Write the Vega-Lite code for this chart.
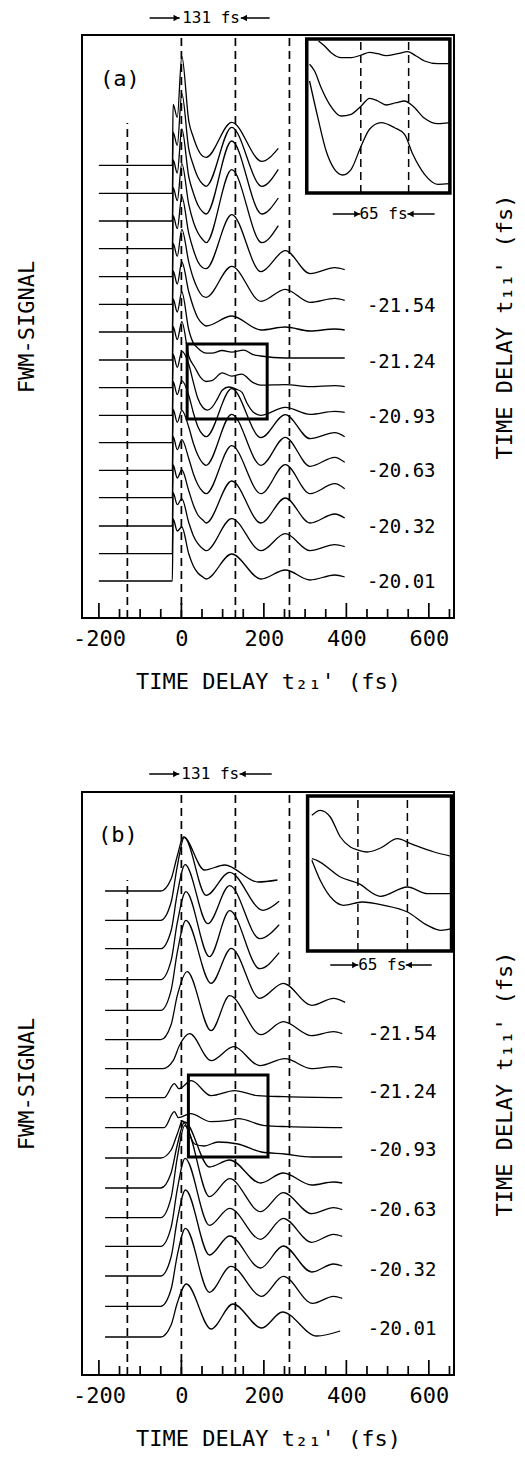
{
"$schema":"https://vega.github.io/schema/vega-lite/v6.json",
"background":"white",
"padding":{"left":14,"top":9,"right":0,"bottom":0},
"bounds":"flush",
"spacing":174,
"config":{"view":{"stroke":"black","strokeWidth":2},"font":"DejaVu Sans Mono","axis":{"grid":false},"text":{"font":"DejaVu Sans Mono","color":"black"}},
"datasets":{
"vlines":[{"kind":"dash","x":-131,"y":0,"y2":495},{"kind":"dash","x":0,"y":0,"y2":583},{"kind":"dash","x":131,"y":0,"y2":583},{"kind":"dash","x":262,"y":0,"y2":583},
{"kind":"tick","x":-200,"y":0,"y2":15},{"kind":"tick","x":0,"y":0,"y2":15},{"kind":"tick","x":200,"y":0,"y2":15},{"kind":"tick","x":400,"y":0,"y2":15},{"kind":"tick","x":600,"y":0,"y2":15},{"kind":"tick","x":-150,"y":0,"y2":9},{"kind":"tick","x":-100,"y":0,"y2":9},{"kind":"tick","x":-50,"y":0,"y2":9},{"kind":"tick","x":50,"y":0,"y2":9},{"kind":"tick","x":100,"y":0,"y2":9},{"kind":"tick","x":150,"y":0,"y2":9},{"kind":"tick","x":250,"y":0,"y2":9},{"kind":"tick","x":300,"y":0,"y2":9},{"kind":"tick","x":350,"y":0,"y2":9},{"kind":"tick","x":450,"y":0,"y2":9},{"kind":"tick","x":500,"y":0,"y2":9},{"kind":"tick","x":550,"y":0,"y2":9},{"kind":"tick","x":650,"y":0,"y2":9}],
"boxA":[{"kind":"inset","x":304,"x2":651,"y":425,"y2":579},{"kind":"zoom","x":14,"x2":208,"y":199,"y2":274}],
"boxB":[{"kind":"inset","x":306,"x2":655,"y":424,"y2":579},{"kind":"zoom","x":17,"x2":210,"y":218,"y2":300}],
"idA":[{"x":435,"y":425,"y2":579},{"x":551,"y":425,"y2":579}],
"idB":[{"x":428,"y":424,"y2":579},{"x":548,"y":424,"y2":579}],
"labA":[{"kind":"val","x":533,"y":312,"t":"-21.54"},{"kind":"val","x":533,"y":256,"t":"-21.24"},{"kind":"val","x":533,"y":201,"t":"-20.93"},{"kind":"val","x":533,"y":147,"t":"-20.63"},{"kind":"val","x":533,"y":91,"t":"-20.32"},{"kind":"val","x":533,"y":36,"t":"-20.01"},{"kind":"tag","x":-149,"y":539,"t":"(a)"},{"kind":"ann","x":72,"y":600,"t":"131 fs"},{"kind":"ann","x":490,"y":404,"t":"65 fs"}],
"labB":[{"kind":"val","x":535,"y":341,"t":"-21.54"},{"kind":"val","x":535,"y":283,"t":"-21.24"},{"kind":"val","x":535,"y":225,"t":"-20.93"},{"kind":"val","x":535,"y":165,"t":"-20.63"},{"kind":"val","x":535,"y":105,"t":"-20.32"},{"kind":"val","x":535,"y":46,"t":"-20.01"},{"kind":"tag","x":-154,"y":540,"t":"(b)"},{"kind":"ann","x":70,"y":601,"t":"131 fs"},{"kind":"ann","x":487,"y":410,"t":"65 fs"}],
"arA":[{"x":-77,"x2":-4,"hx":-12,"y":600,"dir":"r"},{"x":214,"x2":144,"hx":152,"y":600,"dir":"l"},{"x":367,"x2":434,"hx":426,"y":404,"dir":"r"},{"x":614,"x2":548,"hx":556,"y":404,"dir":"l"}],
"arB":[{"x":-78,"x2":-5,"hx":-13,"y":601,"dir":"r"},{"x":219,"x2":141,"hx":149,"y":601,"dir":"l"},{"x":361,"x2":429,"hx":421,"y":410,"dir":"r"},{"x":607,"x2":544,"hx":552,"y":410,"dir":"l"}],
"insA":[
{"k":0,"x":332.6,"y":577},{"k":0,"x":347.2,"y":572},{"k":0,"x":363.2,"y":565.3},{"k":0,"x":387.4,"y":560.3},{"k":0,"x":411.6,"y":560.3},{"k":0,"x":435.9,"y":563},{"k":0,"x":456.2,"y":565.7},{"k":0,"x":476.4,"y":564.3},{"k":0,"x":496.5,"y":562.3},{"k":0,"x":524.8,"y":564.3},{"k":0,"x":549.1,"y":566.3},{"k":0,"x":569.2,"y":562},{"k":0,"x":589.6,"y":557},{"k":0,"x":621.8,"y":554.3},{"k":0,"x":650.2,"y":554.3},
{"k":1,"x":310.8,"y":553.7},{"k":1,"x":322.9,"y":547},{"k":1,"x":338.9,"y":530.3},{"k":1,"x":359.3,"y":513.7},{"k":1,"x":387.4,"y":502},{"k":1,"x":411.6,"y":503.7},{"k":1,"x":435.9,"y":512},{"k":1,"x":456.2,"y":519.7},{"k":1,"x":476.4,"y":517},{"k":1,"x":496.5,"y":513},{"k":1,"x":520.7,"y":515.3},{"k":1,"x":541.1,"y":517},{"k":1,"x":561.2,"y":512},{"k":1,"x":589.6,"y":499.7},{"k":1,"x":621.8,"y":494.3},{"k":1,"x":650.2,"y":495.3},
{"k":2,"x":310.8,"y":537},{"k":2,"x":330.9,"y":500.3},{"k":2,"x":351,"y":467},{"k":2,"x":371.4,"y":448.7},{"k":2,"x":391.5,"y":443},{"k":2,"x":411.6,"y":448.7},{"k":2,"x":435.9,"y":472},{"k":2,"x":456.2,"y":488.7},{"k":2,"x":484.4,"y":495.3},{"k":2,"x":516.8,"y":490.3},{"k":2,"x":541.1,"y":483.7},{"k":2,"x":561.2,"y":463.7},{"k":2,"x":589.6,"y":443.7},{"k":2,"x":621.8,"y":433.7},{"k":2,"x":650.2,"y":434.3}],
"insB":[
{"k":0,"x":316.3,"y":559.7},{"k":0,"x":336.6,"y":564.7},{"k":0,"x":361,"y":558},{"k":0,"x":385.4,"y":538},{"k":0,"x":409.8,"y":528},{"k":0,"x":430,"y":524.7},{"k":0,"x":450.5,"y":523},{"k":0,"x":482.9,"y":527},{"k":0,"x":523.7,"y":536.3},{"k":0,"x":556.1,"y":531.3},{"k":0,"x":612.9,"y":523},{"k":0,"x":655,"y":518.7},
{"k":1,"x":316.3,"y":516.3},{"k":1,"x":328.5,"y":514.7},{"k":1,"x":385.4,"y":498},{"k":1,"x":430,"y":491.3},{"k":1,"x":482.9,"y":478.7},{"k":1,"x":548,"y":488},{"k":1,"x":596.8,"y":481.3},{"k":1,"x":655,"y":481.3},
{"k":2,"x":316.3,"y":514.7},{"k":2,"x":336.6,"y":494.7},{"k":2,"x":369,"y":474.7},{"k":2,"x":393.4,"y":469.7},{"k":2,"x":438.3,"y":473},{"k":2,"x":491,"y":469.7},{"k":2,"x":548,"y":463},{"k":2,"x":596.8,"y":449.7},{"k":2,"x":629.3,"y":444.7},{"k":2,"x":655,"y":446.3}],
"trA":[
{"k":0,"x":-200,"y":37},{"k":0,"x":-22,"y":37},{"k":0,"x":-20,"y":99},{"k":0,"x":-10,"y":87},{"k":0,"x":1,"y":91},{"k":0,"x":18,"y":64},{"k":0,"x":29,"y":52},{"k":0,"x":40,"y":45},{"k":0,"x":52,"y":41},{"k":0,"x":60,"y":39},{"k":0,"x":122,"y":64},{"k":0,"x":193,"y":39},{"k":0,"x":252,"y":48},{"k":0,"x":312,"y":38},{"k":0,"x":372,"y":43},{"k":0,"x":396,"y":41},
{"k":1,"x":-200,"y":64.3},{"k":1,"x":-22,"y":64.3},{"k":1,"x":-20,"y":125.3},{"k":1,"x":-10,"y":113.3},{"k":1,"x":1,"y":119.3},{"k":1,"x":18,"y":95.3},{"k":1,"x":29,"y":82.3},{"k":1,"x":40,"y":74.3},{"k":1,"x":52,"y":69.3},{"k":1,"x":60,"y":67.3},{"k":1,"x":122,"y":99.3},{"k":1,"x":193,"y":67.3},{"k":1,"x":252,"y":84.3},{"k":1,"x":312,"y":67.3},{"k":1,"x":372,"y":73.3},{"k":1,"x":396,"y":71.3},
{"k":2,"x":-200,"y":92},{"k":2,"x":-22,"y":92},{"k":2,"x":-20,"y":153},{"k":2,"x":-10,"y":140},{"k":2,"x":1,"y":148},{"k":2,"x":18,"y":127},{"k":2,"x":29,"y":113},{"k":2,"x":40,"y":103},{"k":2,"x":52,"y":98},{"k":2,"x":60,"y":95},{"k":2,"x":122,"y":137},{"k":2,"x":193,"y":95},{"k":2,"x":252,"y":120},{"k":2,"x":312,"y":95},{"k":2,"x":372,"y":104},{"k":2,"x":396,"y":100},
{"k":3,"x":-200,"y":120.3},{"k":3,"x":-22,"y":120.3},{"k":3,"x":-20,"y":181.3},{"k":3,"x":-10,"y":168.3},{"k":3,"x":1,"y":178.3},{"k":3,"x":18,"y":159.3},{"k":3,"x":29,"y":144.3},{"k":3,"x":40,"y":133.3},{"k":3,"x":52,"y":126.3},{"k":3,"x":60,"y":124.3},{"k":3,"x":122,"y":172.3},{"k":3,"x":193,"y":124.3},{"k":3,"x":252,"y":153.3},{"k":3,"x":312,"y":124.3},{"k":3,"x":372,"y":134.3},{"k":3,"x":396,"y":129.3},
{"k":4,"x":-200,"y":147.7},{"k":4,"x":-22,"y":147.7},{"k":4,"x":-20,"y":208.7},{"k":4,"x":-10,"y":195.7},{"k":4,"x":1,"y":207.7},{"k":4,"x":18,"y":190.7},{"k":4,"x":29,"y":174.7},{"k":4,"x":40,"y":162.7},{"k":4,"x":52,"y":154.7},{"k":4,"x":60,"y":152.7},{"k":4,"x":122,"y":203.7},{"k":4,"x":193,"y":152.7},{"k":4,"x":252,"y":180.7},{"k":4,"x":312,"y":151.7},{"k":4,"x":372,"y":160.7},{"k":4,"x":396,"y":155.7},
{"k":5,"x":-200,"y":175.3},{"k":5,"x":-22,"y":175.3},{"k":5,"x":-20,"y":236.3},{"k":5,"x":-10,"y":223.3},{"k":5,"x":1,"y":237.3},{"k":5,"x":18,"y":222.3},{"k":5,"x":29,"y":205.3},{"k":5,"x":40,"y":191.3},{"k":5,"x":52,"y":183.3},{"k":5,"x":60,"y":181.3},{"k":5,"x":122,"y":229.3},{"k":5,"x":193,"y":180.3},{"k":5,"x":252,"y":203.3},{"k":5,"x":312,"y":179.3},{"k":5,"x":372,"y":185.3},{"k":5,"x":396,"y":181.3},
{"k":6,"x":-200,"y":202.7},{"k":6,"x":-22,"y":202.7},{"k":6,"x":-20,"y":263.7},{"k":6,"x":-10,"y":250.7},{"k":6,"x":1,"y":266.7},{"k":6,"x":18,"y":253.5},{"k":6,"x":29,"y":235.7},{"k":6,"x":40,"y":219.5},{"k":6,"x":52,"y":210.5},{"k":6,"x":63,"y":207.8},{"k":6,"x":74,"y":210.6},{"k":6,"x":88,"y":219.7},{"k":6,"x":99,"y":227.8},{"k":6,"x":115,"y":231},{"k":6,"x":133,"y":228.8},{"k":6,"x":147,"y":225.6},{"k":6,"x":158,"y":215.8},{"k":6,"x":174,"y":206.1},{"k":6,"x":192,"y":202.7},{"k":6,"x":252,"y":210.7},{"k":6,"x":312,"y":203.7},{"k":6,"x":372,"y":206.7},{"k":6,"x":396,"y":205.7},
{"k":7,"x":-200,"y":230.3},{"k":7,"x":-22,"y":230.3},{"k":7,"x":-20,"y":291.3},{"k":7,"x":-10,"y":278.3},{"k":7,"x":1,"y":296.3},{"k":7,"x":18,"y":261.7},{"k":7,"x":33,"y":250.3},{"k":7,"x":47,"y":240.3},{"k":7,"x":60,"y":236.5},{"k":7,"x":74,"y":237.3},{"k":7,"x":99,"y":245.1},{"k":7,"x":122,"y":241.9},{"k":7,"x":146,"y":243.8},{"k":7,"x":174,"y":235.4},{"k":7,"x":192,"y":232.8},{"k":7,"x":252,"y":233.3},{"k":7,"x":312,"y":231.3},{"k":7,"x":372,"y":232.3},{"k":7,"x":396,"y":231.3},
{"k":8,"x":-200,"y":258},{"k":8,"x":-22,"y":258},{"k":8,"x":-20,"y":319},{"k":8,"x":-10,"y":306},{"k":8,"x":1,"y":326},{"k":8,"x":18,"y":288},{"k":8,"x":29,"y":275},{"k":8,"x":38,"y":270.6},{"k":8,"x":47,"y":267.3},{"k":8,"x":60,"y":264.9},{"k":8,"x":74,"y":264.9},{"k":8,"x":99,"y":267.5},{"k":8,"x":122,"y":265.9},{"k":8,"x":151,"y":267.8},{"k":8,"x":174,"y":263.3},{"k":8,"x":192,"y":262},{"k":8,"x":252,"y":260},{"k":8,"x":312,"y":260},{"k":8,"x":396,"y":260},
{"k":9,"x":-200,"y":286},{"k":9,"x":-22,"y":286},{"k":9,"x":-20,"y":347},{"k":9,"x":-10,"y":334},{"k":9,"x":1,"y":356},{"k":9,"x":18,"y":326},{"k":9,"x":29,"y":311},{"k":9,"x":40,"y":300},{"k":9,"x":52,"y":294},{"k":9,"x":60,"y":292},{"k":9,"x":122,"y":302},{"k":9,"x":193,"y":288},{"k":9,"x":252,"y":291},{"k":9,"x":312,"y":287},{"k":9,"x":372,"y":289},{"k":9,"x":396,"y":288},
{"k":10,"x":-200,"y":313.7},{"k":10,"x":-22,"y":313.7},{"k":10,"x":-20,"y":374.7},{"k":10,"x":-10,"y":361.7},{"k":10,"x":1,"y":388.7},{"k":10,"x":18,"y":355.7},{"k":10,"x":29,"y":339.7},{"k":10,"x":40,"y":328.7},{"k":10,"x":52,"y":321.7},{"k":10,"x":60,"y":320.7},{"k":10,"x":122,"y":351.7},{"k":10,"x":193,"y":316.7},{"k":10,"x":252,"y":328.7},{"k":10,"x":312,"y":315.7},{"k":10,"x":372,"y":319.7},{"k":10,"x":396,"y":317.7},
{"k":11,"x":-200,"y":341.3},{"k":11,"x":-22,"y":341.3},{"k":11,"x":-20,"y":402.3},{"k":11,"x":-10,"y":389.3},{"k":11,"x":1,"y":421.3},{"k":11,"x":18,"y":384.3},{"k":11,"x":29,"y":368.3},{"k":11,"x":40,"y":356.3},{"k":11,"x":52,"y":350.3},{"k":11,"x":60,"y":349.3},{"k":11,"x":122,"y":403.3},{"k":11,"x":193,"y":346.3},{"k":11,"x":252,"y":367.3},{"k":11,"x":312,"y":344.3},{"k":11,"x":372,"y":350.3},{"k":11,"x":396,"y":348.3},
{"k":12,"x":-200,"y":369.3},{"k":12,"x":-22,"y":369.3},{"k":12,"x":-20,"y":430.3},{"k":12,"x":-10,"y":417.3},{"k":12,"x":1,"y":454.3},{"k":12,"x":18,"y":413.3},{"k":12,"x":29,"y":396.3},{"k":12,"x":40,"y":385.3},{"k":12,"x":52,"y":378.3},{"k":12,"x":60,"y":375.3},{"k":12,"x":122,"y":448.3},{"k":12,"x":195,"y":375.3},{"k":12,"x":235,"y":392.3},
{"k":13,"x":-200,"y":397},{"k":13,"x":-22,"y":397},{"k":13,"x":-20,"y":458},{"k":13,"x":-10,"y":445},{"k":13,"x":1,"y":489},{"k":13,"x":18,"y":441},{"k":13,"x":29,"y":425},{"k":13,"x":40,"y":413},{"k":13,"x":52,"y":406},{"k":13,"x":60,"y":404},{"k":13,"x":122,"y":477},{"k":13,"x":195,"y":404},{"k":13,"x":235,"y":420},
{"k":14,"x":-200,"y":424.7},{"k":14,"x":-22,"y":424.7},{"k":14,"x":-20,"y":485.7},{"k":14,"x":-10,"y":472.7},{"k":14,"x":1,"y":524.7},{"k":14,"x":18,"y":468.7},{"k":14,"x":29,"y":452.7},{"k":14,"x":40,"y":440.7},{"k":14,"x":52,"y":433.7},{"k":14,"x":60,"y":431.7},{"k":14,"x":122,"y":490.7},{"k":14,"x":195,"y":431.7},{"k":14,"x":235,"y":448.7},
{"k":15,"x":-200,"y":452.7},{"k":15,"x":-22,"y":452.7},{"k":15,"x":-20,"y":513.7},{"k":15,"x":-10,"y":500.7},{"k":15,"x":1,"y":561.7},{"k":15,"x":18,"y":496.7},{"k":15,"x":29,"y":480.7},{"k":15,"x":40,"y":468.7},{"k":15,"x":52,"y":461.7},{"k":15,"x":60,"y":460.7},{"k":15,"x":122,"y":495.7},{"k":15,"x":195,"y":456.7},{"k":15,"x":235,"y":469.7}],
"trB":[
{"k":0,"x":-185,"y":38},{"k":0,"x":-50,"y":38},{"k":0,"x":-25,"y":50},{"k":0,"x":-10,"y":72},{"k":0,"x":12,"y":91},{"k":0,"x":72,"y":46},{"k":0,"x":125,"y":71},{"k":0,"x":195,"y":47},{"k":0,"x":245,"y":63},{"k":0,"x":328,"y":39},{"k":0,"x":385,"y":44},
{"k":1,"x":-185,"y":68.7},{"k":1,"x":-50,"y":68.7},{"k":1,"x":-25,"y":85.7},{"k":1,"x":-10,"y":119.7},{"k":1,"x":10,"y":146.7},{"k":1,"x":68,"y":82.7},{"k":1,"x":120,"y":108.7},{"k":1,"x":195,"y":78.7},{"k":1,"x":247,"y":98.7},{"k":1,"x":318,"y":71.7},{"k":1,"x":369,"y":78.7},{"k":1,"x":390,"y":76.7},
{"k":2,"x":-185,"y":99},{"k":2,"x":-50,"y":99},{"k":2,"x":-25,"y":118},{"k":2,"x":-10,"y":155},{"k":2,"x":10,"y":185},{"k":2,"x":68,"y":120},{"k":2,"x":117,"y":139},{"k":2,"x":192,"y":107},{"k":2,"x":247,"y":129},{"k":2,"x":316,"y":103},{"k":2,"x":369,"y":111},{"k":2,"x":390,"y":109},
{"k":3,"x":-185,"y":128.7},{"k":3,"x":-50,"y":128.7},{"k":3,"x":-25,"y":147.7},{"k":3,"x":-10,"y":185.7},{"k":3,"x":9,"y":216.7},{"k":3,"x":68,"y":149.7},{"k":3,"x":117,"y":166.7},{"k":3,"x":192,"y":135.7},{"k":3,"x":247,"y":156.7},{"k":3,"x":316,"y":132.7},{"k":3,"x":369,"y":140.7},{"k":3,"x":390,"y":138.7},
{"k":4,"x":-185,"y":157.3},{"k":4,"x":-50,"y":157.3},{"k":4,"x":-25,"y":177.3},{"k":4,"x":-10,"y":217.3},{"k":4,"x":8,"y":249.3},{"k":4,"x":68,"y":178.3},{"k":4,"x":117,"y":196.3},{"k":4,"x":192,"y":163.3},{"k":4,"x":247,"y":182.3},{"k":4,"x":316,"y":161.3},{"k":4,"x":369,"y":167.3},{"k":4,"x":390,"y":165.3},
{"k":5,"x":-185,"y":187},{"k":5,"x":-50,"y":187},{"k":5,"x":-25,"y":202},{"k":5,"x":-10,"y":230},{"k":5,"x":8,"y":253},{"k":5,"x":68,"y":208},{"k":5,"x":117,"y":215},{"k":5,"x":192,"y":192},{"k":5,"x":247,"y":202},{"k":5,"x":316,"y":190},{"k":5,"x":369,"y":193},{"k":5,"x":390,"y":192},
{"k":6,"x":-185,"y":217},{"k":6,"x":-50,"y":217},{"k":6,"x":-25,"y":225},{"k":6,"x":-10,"y":241},{"k":6,"x":3,"y":254},{"k":6,"x":32,"y":231},{"k":6,"x":55,"y":229},{"k":6,"x":89,"y":233},{"k":6,"x":137,"y":231},{"k":6,"x":194,"y":223},{"k":6,"x":250,"y":221},{"k":6,"x":316,"y":218},{"k":6,"x":390,"y":218},
{"k":7,"x":-185,"y":247.3},{"k":7,"x":-42,"y":247.3},{"k":7,"x":-17,"y":263.3},{"k":7,"x":-7,"y":257.3},{"k":7,"x":22,"y":261.3},{"k":7,"x":72,"y":253.3},{"k":7,"x":110,"y":254.3},{"k":7,"x":138,"y":256.3},{"k":7,"x":203,"y":249.3},{"k":7,"x":260,"y":248.3},{"k":7,"x":390,"y":247.3},
{"k":8,"x":-185,"y":277.3},{"k":8,"x":-42,"y":277.3},{"k":8,"x":-17,"y":291.3},{"k":8,"x":-6,"y":286.3},{"k":8,"x":24,"y":294.3},{"k":8,"x":72,"y":279.3},{"k":8,"x":129,"y":284.3},{"k":8,"x":185,"y":279.3},{"k":8,"x":250,"y":278.3},{"k":8,"x":390,"y":277.3},
{"k":9,"x":-185,"y":306.3},{"k":9,"x":-45,"y":306.3},{"k":9,"x":-20,"y":314.3},{"k":9,"x":-5,"y":329.3},{"k":9,"x":20,"y":341.3},{"k":9,"x":72,"y":314.3},{"k":9,"x":127,"y":328.3},{"k":9,"x":190,"y":309.3},{"k":9,"x":251,"y":316.3},{"k":9,"x":316,"y":306.3},{"k":9,"x":369,"y":308.3},{"k":9,"x":390,"y":307.3},
{"k":10,"x":-185,"y":335.3},{"k":10,"x":-50,"y":335.3},{"k":10,"x":-25,"y":350.3},{"k":10,"x":-10,"y":379.3},{"k":10,"x":14,"y":403.3},{"k":10,"x":72,"y":344.3},{"k":10,"x":117,"y":379.3},{"k":10,"x":193,"y":340.3},{"k":10,"x":247,"y":353.3},{"k":10,"x":316,"y":339.3},{"k":10,"x":369,"y":343.3},{"k":10,"x":390,"y":341.3},
{"k":11,"x":-185,"y":364.7},{"k":11,"x":-50,"y":364.7},{"k":11,"x":-25,"y":384.7},{"k":11,"x":-10,"y":422.7},{"k":11,"x":11,"y":454.7},{"k":11,"x":72,"y":391.7},{"k":11,"x":121,"y":426.7},{"k":11,"x":190,"y":376.7},{"k":11,"x":247,"y":391.7},{"k":11,"x":316,"y":369.7},{"k":11,"x":369,"y":376.7},{"k":11,"x":397,"y":372.7},
{"k":12,"x":-185,"y":395.3},{"k":12,"x":-50,"y":395.3},{"k":12,"x":-25,"y":414.3},{"k":12,"x":-10,"y":452.3},{"k":12,"x":11,"y":483.3},{"k":12,"x":68,"y":418.3},{"k":12,"x":117,"y":464.3},{"k":12,"x":190,"y":406.3},{"k":12,"x":237,"y":422.3},
{"k":13,"x":-185,"y":426.3},{"k":13,"x":-50,"y":426.3},{"k":13,"x":-25,"y":444.3},{"k":13,"x":-10,"y":481.3},{"k":13,"x":9,"y":510.3},{"k":13,"x":64,"y":451.3},{"k":13,"x":117,"y":489.3},{"k":13,"x":190,"y":436.3},{"k":13,"x":237,"y":450.3},
{"k":14,"x":-185,"y":454.7},{"k":14,"x":-50,"y":454.7},{"k":14,"x":-25,"y":472.7},{"k":14,"x":-10,"y":508.7},{"k":14,"x":7,"y":537.7},{"k":14,"x":60,"y":479.7},{"k":14,"x":117,"y":502.7},{"k":14,"x":198,"y":464.7},{"k":14,"x":237,"y":473.7},
{"k":15,"x":-185,"y":484},{"k":15,"x":-50,"y":484},{"k":15,"x":-25,"y":496},{"k":15,"x":-10,"y":519},{"k":15,"x":5,"y":538},{"k":15,"x":56,"y":505},{"k":15,"x":105,"y":510},{"k":15,"x":186,"y":493},{"k":15,"x":233,"y":495}]
},
"vconcat":[
{"width":372,"height":583,
"resolve":{"axis":{"x":"independent","y":"independent"}},
"layer":[
{"data":{"name":"vlines"},"mark":{"type":"rule","strokeWidth":1.7,"color":"black"},
"encoding":{"x":{"field":"x","type":"quantitative","scale":{"domain":[-241,661],"nice":false,"zero":false},
"axis":{"orient":"bottom","values":[-200,0,200,400,600],"ticks":false,"domain":false,"labelExpr":"'' + datum.value","labelFontSize":22,"labelFont":"DejaVu Sans Mono","labelColor":"black","labelPadding":10,"labelOverlap":false,"labelFlush":false,"title":"TIME DELAY t₂₁' (fs)","titleFontSize":22,"titleFont":"DejaVu Sans Mono","titleFontWeight":"normal","titleColor":"black","titlePadding":22}},
"y":{"field":"y","type":"quantitative","scale":{"domain":[0,583],"nice":false,"zero":false},
"axis":{"orient":"left","labels":false,"ticks":false,"domain":false,"minExtent":0,"title":"FWM-SIGNAL","titleFontSize":22,"titleFont":"DejaVu Sans Mono","titleFontWeight":"normal","titleColor":"black","titlePadding":44,"titleBaseline":"bottom"}},
"y2":{"field":"y2"},
"strokeDash":{"field":"kind","type":"nominal","scale":{"domain":["dash","tick"],"range":[[8,5],[1,0]]},"legend":null}}},
{"data":{"name":"trA"},"mark":{"type":"line","interpolate":"monotone","strokeWidth":1.3,"color":"black"},
"encoding":{"x":{"field":"x","type":"quantitative","scale":{"domain":[-241,661],"nice":false,"zero":false},"axis":null},
"y":{"field":"y","type":"quantitative","scale":{"domain":[0,583],"nice":false,"zero":false},
"axis":{"orient":"right","labels":false,"ticks":false,"domain":false,"minExtent":0,"title":"TIME DELAY t₁₁' (fs)","titleAngle":270,"titleBaseline":"top","titleFontSize":22,"titleFont":"DejaVu Sans Mono","titleFontWeight":"normal","titleColor":"black","titlePadding":40}},
"detail":{"field":"k","type":"nominal"}}},
{"data":{"name":"boxA"},"transform":[{"filter":"datum.kind == 'inset'"}],"mark":{"type":"rect","fill":"white","stroke":"black","strokeWidth":3.5},
"encoding":{"x":{"field":"x","type":"quantitative","scale":{"domain":[-241,661],"nice":false,"zero":false},"axis":null},"x2":{"field":"x2"},"y":{"field":"y","type":"quantitative","scale":{"domain":[0,583],"nice":false,"zero":false},"axis":null},"y2":{"field":"y2"}}},
{"data":{"name":"idA"},"mark":{"type":"rule","strokeDash":[8,5],"strokeWidth":1.5,"color":"black"},
"encoding":{"x":{"field":"x","type":"quantitative","scale":{"domain":[-241,661],"nice":false,"zero":false},"axis":null},"y":{"field":"y","type":"quantitative","scale":{"domain":[0,583],"nice":false,"zero":false},"axis":null},"y2":{"field":"y2"}}},
{"data":{"name":"insA"},"mark":{"type":"line","interpolate":"monotone","strokeWidth":1.3,"color":"black"},
"encoding":{"x":{"field":"x","type":"quantitative","scale":{"domain":[-241,661],"nice":false,"zero":false},"axis":null},"y":{"field":"y","type":"quantitative","scale":{"domain":[0,583],"nice":false,"zero":false},"axis":null},"detail":{"field":"k","type":"nominal"}}},
{"data":{"name":"boxA"},"transform":[{"filter":"datum.kind == 'zoom'"}],"mark":{"type":"rect","fill":null,"fillOpacity":0,"stroke":"black","strokeWidth":3},
"encoding":{"x":{"field":"x","type":"quantitative","scale":{"domain":[-241,661],"nice":false,"zero":false},"axis":null},"x2":{"field":"x2"},"y":{"field":"y","type":"quantitative","scale":{"domain":[0,583],"nice":false,"zero":false},"axis":null},"y2":{"field":"y2"}}},
{"data":{"name":"labA"},"transform":[{"filter":"datum.kind == 'val'"}],"mark":{"type":"text","fontSize":19,"align":"center","baseline":"middle","font":"DejaVu Sans Mono"},
"encoding":{"x":{"field":"x","type":"quantitative","scale":{"domain":[-241,661],"nice":false,"zero":false},"axis":null},"y":{"field":"y","type":"quantitative","scale":{"domain":[0,583],"nice":false,"zero":false},"axis":null},"text":{"field":"t"}}},
{"data":{"name":"labA"},"transform":[{"filter":"datum.kind == 'tag'"}],"mark":{"type":"text","fontSize":22,"align":"center","baseline":"middle","font":"DejaVu Sans Mono"},
"encoding":{"x":{"field":"x","type":"quantitative","scale":{"domain":[-241,661],"nice":false,"zero":false},"axis":null},"y":{"field":"y","type":"quantitative","scale":{"domain":[0,583],"nice":false,"zero":false},"axis":null},"text":{"field":"t"}}},
{"data":{"name":"labA"},"transform":[{"filter":"datum.kind == 'ann'"}],"mark":{"type":"text","fontSize":16,"align":"center","baseline":"middle","font":"DejaVu Sans Mono"},
"encoding":{"x":{"field":"x","type":"quantitative","scale":{"domain":[-241,661],"nice":false,"zero":false},"axis":null},"y":{"field":"y","type":"quantitative","scale":{"domain":[0,583],"nice":false,"zero":false},"axis":null},"text":{"field":"t"}}},
{"data":{"name":"arA"},"mark":{"type":"rule","strokeWidth":1.5,"color":"black"},
"encoding":{"x":{"field":"x","type":"quantitative","scale":{"domain":[-241,661],"nice":false,"zero":false},"axis":null},"x2":{"field":"x2"},"y":{"field":"y","type":"quantitative","scale":{"domain":[0,583],"nice":false,"zero":false},"axis":null}}},
{"data":{"name":"arA"},"mark":{"type":"point","filled":true,"color":"black","size":45,"opacity":1},
"encoding":{"x":{"field":"hx","type":"quantitative","scale":{"domain":[-241,661],"nice":false,"zero":false},"axis":null},"y":{"field":"y","type":"quantitative","scale":{"domain":[0,583],"nice":false,"zero":false},"axis":null},"shape":{"field":"dir","type":"nominal","scale":{"domain":["r","l"],"range":["triangle-right","triangle-left"]},"legend":null}}}
]},
{"width":372,"height":583,
"resolve":{"axis":{"x":"independent","y":"independent"}},
"layer":[
{"data":{"name":"vlines"},"mark":{"type":"rule","strokeWidth":1.7,"color":"black"},
"encoding":{"x":{"field":"x","type":"quantitative","scale":{"domain":[-241,661],"nice":false,"zero":false},
"axis":{"orient":"bottom","values":[-200,0,200,400,600],"ticks":false,"domain":false,"labelExpr":"'' + datum.value","labelFontSize":22,"labelFont":"DejaVu Sans Mono","labelColor":"black","labelPadding":10,"labelOverlap":false,"labelFlush":false,"title":"TIME DELAY t₂₁' (fs)","titleFontSize":22,"titleFont":"DejaVu Sans Mono","titleFontWeight":"normal","titleColor":"black","titlePadding":22}},
"y":{"field":"y","type":"quantitative","scale":{"domain":[0,583],"nice":false,"zero":false},
"axis":{"orient":"left","labels":false,"ticks":false,"domain":false,"minExtent":0,"title":"FWM-SIGNAL","titleFontSize":22,"titleFont":"DejaVu Sans Mono","titleFontWeight":"normal","titleColor":"black","titlePadding":44,"titleBaseline":"bottom"}},
"y2":{"field":"y2"},
"strokeDash":{"field":"kind","type":"nominal","scale":{"domain":["dash","tick"],"range":[[8,5],[1,0]]},"legend":null}}},
{"data":{"name":"trB"},"mark":{"type":"line","interpolate":"monotone","strokeWidth":1.3,"color":"black"},
"encoding":{"x":{"field":"x","type":"quantitative","scale":{"domain":[-241,661],"nice":false,"zero":false},"axis":null},
"y":{"field":"y","type":"quantitative","scale":{"domain":[0,583],"nice":false,"zero":false},
"axis":{"orient":"right","labels":false,"ticks":false,"domain":false,"minExtent":0,"title":"TIME DELAY t₁₁' (fs)","titleAngle":270,"titleBaseline":"top","titleFontSize":22,"titleFont":"DejaVu Sans Mono","titleFontWeight":"normal","titleColor":"black","titlePadding":40}},
"detail":{"field":"k","type":"nominal"}}},
{"data":{"name":"boxB"},"transform":[{"filter":"datum.kind == 'inset'"}],"mark":{"type":"rect","fill":"white","stroke":"black","strokeWidth":3.5},
"encoding":{"x":{"field":"x","type":"quantitative","scale":{"domain":[-241,661],"nice":false,"zero":false},"axis":null},"x2":{"field":"x2"},"y":{"field":"y","type":"quantitative","scale":{"domain":[0,583],"nice":false,"zero":false},"axis":null},"y2":{"field":"y2"}}},
{"data":{"name":"idB"},"mark":{"type":"rule","strokeDash":[8,5],"strokeWidth":1.5,"color":"black"},
"encoding":{"x":{"field":"x","type":"quantitative","scale":{"domain":[-241,661],"nice":false,"zero":false},"axis":null},"y":{"field":"y","type":"quantitative","scale":{"domain":[0,583],"nice":false,"zero":false},"axis":null},"y2":{"field":"y2"}}},
{"data":{"name":"insB"},"mark":{"type":"line","interpolate":"monotone","strokeWidth":1.3,"color":"black"},
"encoding":{"x":{"field":"x","type":"quantitative","scale":{"domain":[-241,661],"nice":false,"zero":false},"axis":null},"y":{"field":"y","type":"quantitative","scale":{"domain":[0,583],"nice":false,"zero":false},"axis":null},"detail":{"field":"k","type":"nominal"}}},
{"data":{"name":"boxB"},"transform":[{"filter":"datum.kind == 'zoom'"}],"mark":{"type":"rect","fill":null,"fillOpacity":0,"stroke":"black","strokeWidth":3},
"encoding":{"x":{"field":"x","type":"quantitative","scale":{"domain":[-241,661],"nice":false,"zero":false},"axis":null},"x2":{"field":"x2"},"y":{"field":"y","type":"quantitative","scale":{"domain":[0,583],"nice":false,"zero":false},"axis":null},"y2":{"field":"y2"}}},
{"data":{"name":"labB"},"transform":[{"filter":"datum.kind == 'val'"}],"mark":{"type":"text","fontSize":19,"align":"center","baseline":"middle","font":"DejaVu Sans Mono"},
"encoding":{"x":{"field":"x","type":"quantitative","scale":{"domain":[-241,661],"nice":false,"zero":false},"axis":null},"y":{"field":"y","type":"quantitative","scale":{"domain":[0,583],"nice":false,"zero":false},"axis":null},"text":{"field":"t"}}},
{"data":{"name":"labB"},"transform":[{"filter":"datum.kind == 'tag'"}],"mark":{"type":"text","fontSize":22,"align":"center","baseline":"middle","font":"DejaVu Sans Mono"},
"encoding":{"x":{"field":"x","type":"quantitative","scale":{"domain":[-241,661],"nice":false,"zero":false},"axis":null},"y":{"field":"y","type":"quantitative","scale":{"domain":[0,583],"nice":false,"zero":false},"axis":null},"text":{"field":"t"}}},
{"data":{"name":"labB"},"transform":[{"filter":"datum.kind == 'ann'"}],"mark":{"type":"text","fontSize":16,"align":"center","baseline":"middle","font":"DejaVu Sans Mono"},
"encoding":{"x":{"field":"x","type":"quantitative","scale":{"domain":[-241,661],"nice":false,"zero":false},"axis":null},"y":{"field":"y","type":"quantitative","scale":{"domain":[0,583],"nice":false,"zero":false},"axis":null},"text":{"field":"t"}}},
{"data":{"name":"arB"},"mark":{"type":"rule","strokeWidth":1.5,"color":"black"},
"encoding":{"x":{"field":"x","type":"quantitative","scale":{"domain":[-241,661],"nice":false,"zero":false},"axis":null},"x2":{"field":"x2"},"y":{"field":"y","type":"quantitative","scale":{"domain":[0,583],"nice":false,"zero":false},"axis":null}}},
{"data":{"name":"arB"},"mark":{"type":"point","filled":true,"color":"black","size":45,"opacity":1},
"encoding":{"x":{"field":"hx","type":"quantitative","scale":{"domain":[-241,661],"nice":false,"zero":false},"axis":null},"y":{"field":"y","type":"quantitative","scale":{"domain":[0,583],"nice":false,"zero":false},"axis":null},"shape":{"field":"dir","type":"nominal","scale":{"domain":["r","l"],"range":["triangle-right","triangle-left"]},"legend":null}}}
]}
]
}
